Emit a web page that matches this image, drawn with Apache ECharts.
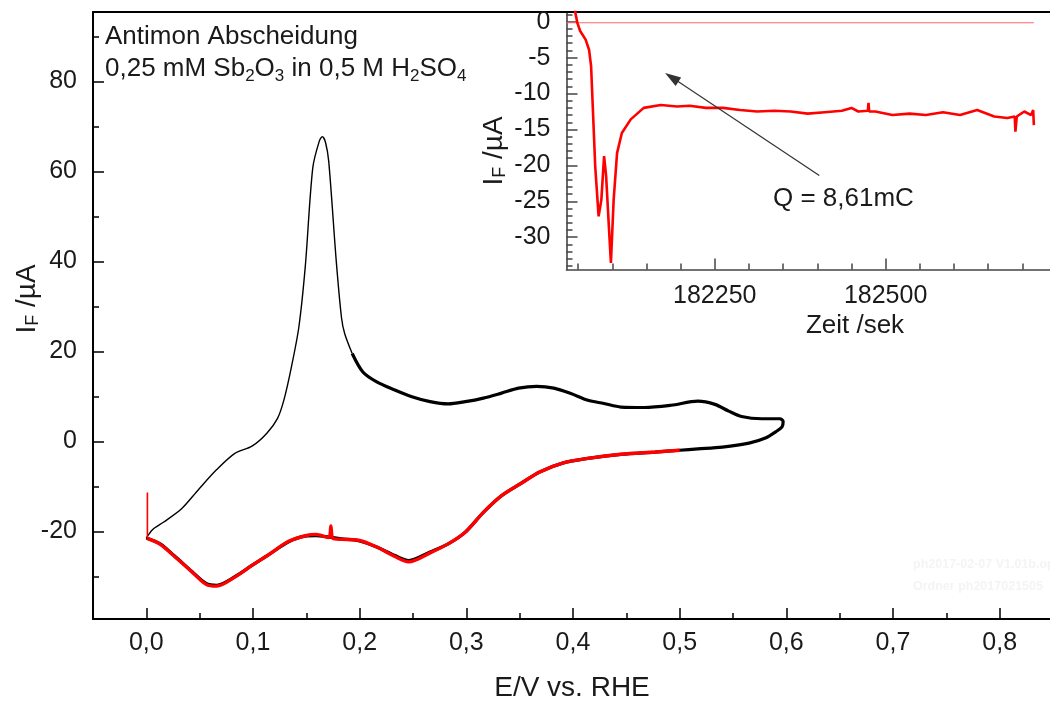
<!DOCTYPE html>
<html><head><meta charset="utf-8">
<script src="https://cdn.jsdelivr.net/npm/echarts@6/dist/echarts.min.js"></script>
<style>html,body{margin:0;padding:0;overflow:hidden;background:#fff}#c{width:1056px;height:704px}</style>
</head><body><div id="c"></div>
<script>
// ---------- data ----------
// Cyclic voltammogram: [E / V vs. RHE, I / µA]
const cvAnodicPeak = [[0.000,-21.5],[0.006,-19.6],[0.016,-18.0],[0.033,-15.0],[0.049,-10.7],[0.066,-6.3],[0.083,-2.7],[0.099,-1.1],[0.113,1.8],[0.123,5.1],[0.129,9.2],[0.136,16.5],[0.143,25.4],[0.149,38.8],[0.156,60.7],[0.162,66.6],[0.165,67.7],[0.168,66.4],[0.171,62.2],[0.178,40.2],[0.183,27.4],[0.186,23.9],[0.193,19.5]];
const cvLoop = [[0.193,19.5],[0.203,15.4],[0.216,13.2],[0.233,11.4],[0.249,9.9],[0.266,8.8],[0.283,8.3],[0.299,8.8],[0.316,9.6],[0.333,10.7],[0.349,11.8],[0.366,12.2],[0.382,11.8],[0.398,10.6],[0.414,9.1],[0.429,8.4],[0.445,7.6],[0.467,7.5],[0.492,8.0],[0.517,8.9],[0.533,8.2],[0.546,6.7],[0.558,5.5],[0.577,5.0],[0.594,5.0],[0.597,4.4],[0.596,3.2],[0.590,2.1],[0.581,0.8],[0.565,-0.4],[0.540,-1.3],[0.517,-1.7],[0.500,-2.0],[0.477,-2.4],[0.445,-2.9],[0.414,-3.8],[0.391,-4.8],[0.369,-6.8],[0.351,-9.4],[0.333,-12.1],[0.316,-15.8],[0.299,-20.2],[0.283,-22.8],[0.266,-24.6],[0.246,-26.5],[0.233,-25.4],[0.216,-23.5],[0.199,-22.1],[0.183,-21.7],[0.159,-21.0],[0.149,-21.1],[0.133,-22.4],[0.116,-25.0],[0.099,-27.6],[0.083,-30.1],[0.066,-32.0],[0.056,-31.6],[0.043,-29.0],[0.026,-25.4],[0.013,-22.8],[0.000,-21.5]];
const cvRedSweep = [[0.500,-2.0],[0.477,-2.4],[0.445,-2.9],[0.414,-3.8],[0.391,-4.8],[0.369,-6.8],[0.351,-9.4],[0.333,-12.1],[0.316,-15.8],[0.299,-20.2],[0.283,-22.8],[0.266,-24.8],[0.246,-26.8],[0.233,-25.6],[0.216,-23.5],[0.199,-22.0],[0.183,-21.8],[0.175,-21.6],[0.173,-18.8],[0.171,-21.4],[0.159,-20.7],[0.149,-21.0],[0.133,-22.3],[0.116,-25.0],[0.099,-27.6],[0.083,-30.2],[0.066,-32.2],[0.056,-31.8],[0.043,-29.1],[0.026,-25.5],[0.013,-22.9],[0.001,-21.6]];
const cvRedSpike = [[0.001,-21.6],[0.001,-11.4]];

// Inset: chronoamperometry [Zeit / sek, I / µA]
const insetTrace = [[182044,3.0],[182046,1.2],[182049,-0.2],[182053,-1.3],[182061,-2.5],[182066,-3.9],[182069,-6.2],[182071,-10.8],[182075,-20.1],[182080,-27.1],[182084,-24.8],[182088,-18.7],[182091,-21.5],[182095,-28.5],[182098,-33.6],[182102,-24.8],[182107,-18.3],[182114,-15.5],[182127,-13.6],[182146,-12.0],[182171,-11.6],[182195,-11.8],[182213,-11.7],[182237,-12.0],[182262,-12.0],[182287,-12.3],[182312,-12.5],[182337,-12.4],[182361,-12.5],[182386,-12.8],[182411,-12.6],[182436,-12.4],[182450,-12.0],[182460,-12.5],[182474,-12.4],[182475,-11.3],[182476,-12.5],[182485,-12.5],[182510,-13.0],[182535,-12.8],[182559,-13.0],[182584,-12.6],[182609,-13.0],[182634,-12.3],[182659,-13.2],[182678,-13.4],[182689,-13.2],[182690,-15.3],[182692,-13.2],[182703,-12.5],[182713,-13.0],[182716,-12.3],[182717,-14.4]];
const insetBaseline = [[182033,-0.15],[182717,-0.15]];
const arrowFrom = [182403,-21.4];
const arrowTo = [182187,-7.75];

// Ticks
const mainXTicks = [0,0.1,0.2,0.3,0.4,0.5,0.6,0.7,0.8];
const mainXMinorTicks = [0.05,0.15,0.25,0.35,0.45,0.55,0.65,0.75];
const mainYTicks = [-20,0,20,40,60,80];
const mainYMinorTicks = [-30,-10,10,30,50,70,90];
const insetXTicks = [182250,182500];
const insetXMinorTicks = [182050,182100,182150,182200,182300,182350,182400,182450,182550,182600,182650,182700];
const insetYTicks = [-30,-25,-20,-15,-10,-5,0];
const insetYMinorTicks = [-34,-33,-32,-31,-29,-28,-27,-26,-24,-23,-22,-21,-19,-18,-17,-16,-14,-13,-12,-11,-9,-8,-7,-6,-4,-3,-2,-1,1];

// ---------- chart ----------
const FONT = "'Liberation Sans', Arial, sans-serif";
const TXT = '#1a1a1a';
const chart = echarts.init(document.getElementById('c'), null, {renderer:'canvas'});

function axis(grid, min, max, opts) {
  return {
    type:'value', gridIndex:grid, min:min, max:max,
    position: opts.position,
    splitLine:{show:false},
    axisLine:{show: opts.line !== false, onZero:false, lineStyle:{color:opts.color||'#000', width:opts.lw||2}},
    axisTick:{show: !!opts.ticks, inside:true, length:opts.tickLen||11, customValues:opts.ticks||[], lineStyle:{color:opts.color||'#000', width:1.5}},
    axisLabel:{show: !!opts.labels, customValues:opts.labels||[], margin:opts.margin||12, fontSize:25, fontFamily:FONT, color:TXT, formatter:opts.fmt}
  };
}

const xFmt = v => v.toFixed(1).replace('.', ',');
const plainFmt = v => String(Math.round(v));
const sub = (fs, lh) => ({fontSize:fs, lineHeight:lh, fontFamily:FONT, verticalAlign:'bottom', fill:TXT});

chart.setOption({
  animation:false,
  backgroundColor:'#fff',
  grid:[
    {left:93, top:12, width:960, height:607},
    {left:566.5, top:12, width:486.5, height:257.5}
  ],
  xAxis:[
    axis(0,-0.05,0.85,{position:'bottom', ticks:mainXTicks, labels:mainXTicks, fmt:xFmt, margin:12}),
    axis(0,-0.05,0.85,{position:'bottom', line:false, ticks:mainXMinorTicks, tickLen:6}),
    axis(0,-0.05,0.85,{position:'top'}),
    axis(1,182033,182745,{position:'bottom', color:'#444', lw:1.6, ticks:insetXTicks, labels:insetXTicks, fmt:plainFmt, margin:14}),
    axis(1,182033,182745,{position:'bottom', line:false, color:'#444', ticks:insetXMinorTicks, tickLen:6})
  ],
  yAxis:[
    axis(0,-39.5,95.4,{position:'left', ticks:mainYTicks, labels:mainYTicks, fmt:plainFmt, margin:16}),
    axis(0,-39.5,95.4,{position:'left', line:false, ticks:mainYMinorTicks, tickLen:6}),
    axis(1,-34.5,1.35,{position:'left', color:'#444', lw:1.6, ticks:insetYTicks, labels:insetYTicks, fmt:plainFmt, margin:16}),
    axis(1,-34.5,1.35,{position:'left', line:false, color:'#444', ticks:insetYMinorTicks, tickLen:6})
  ],
  series:[
    {type:'line', xAxisIndex:0, yAxisIndex:0, data:cvAnodicPeak, symbol:'none', smooth:0.3, lineStyle:{color:'#000', width:1.4}, z:2},
    {type:'line', xAxisIndex:0, yAxisIndex:0, data:cvLoop, symbol:'none', smooth:0.3, lineStyle:{color:'#000', width:3.2}, z:2},
    {type:'line', xAxisIndex:0, yAxisIndex:0, data:cvRedSweep, symbol:'none', smooth:0.3, lineStyle:{color:'#ff0000', width:3.4}, z:3},
    {type:'line', xAxisIndex:0, yAxisIndex:0, data:cvRedSpike, symbol:'none', lineStyle:{color:'#ff0000', width:1.6}, z:3},
    {type:'line', xAxisIndex:3, yAxisIndex:2, data:insetBaseline, symbol:'none', lineStyle:{color:'#ff6a6a', width:1.2}, z:2},
    {type:'line', xAxisIndex:3, yAxisIndex:2, data:insetTrace, symbol:'none', lineStyle:{color:'#ff0000', width:2.6}, z:3,
      markLine:{silent:true, symbol:['none','triangle'], symbolSize:[10,16], animation:false,
        lineStyle:{color:'#333', width:1.2, type:'solid'}, label:{show:false},
        data:[[{coord:arrowFrom},{coord:arrowTo}]]}}
  ],
  graphic:[
    {type:'text', x:105, y:21, z:10, style:{text:'Antimon Abscheidung\n0,25 mM Sb{s|2}O{s|3} in 0,5 M H{s|2}SO{s|4}',
      fontSize:26, lineHeight:32, fontFamily:FONT, fill:TXT, align:'left', verticalAlign:'top', rich:{s:sub(17,15)}}},
    {type:'text', x:572, y:688, z:10, style:{text:'E/V vs. RHE', fontSize:28, fontFamily:FONT, fill:TXT, align:'center', verticalAlign:'middle'}},
    {type:'text', x:27, y:299, rotation:Math.PI/2, z:10, style:{text:'I{s|F} /µA', fontSize:28, lineHeight:30, fontFamily:FONT, fill:TXT, align:'center', verticalAlign:'middle', rich:{s:sub(18,12)}}},
    {type:'text', x:494, y:151, rotation:Math.PI/2, z:10, style:{text:'I{s|F} /µA', fontSize:28, lineHeight:30, fontFamily:FONT, fill:TXT, align:'center', verticalAlign:'middle', rich:{s:sub(18,12)}}},
    {type:'text', x:855, y:326, z:10, style:{text:'Zeit /sek', fontSize:26, fontFamily:FONT, fill:TXT, align:'center', verticalAlign:'middle'}},
    {type:'text', x:773, y:199, z:10, style:{text:'Q = 8,61mC', fontSize:26, fontFamily:FONT, fill:TXT, align:'left', verticalAlign:'middle'}},
    {type:'text', x:913, y:565, z:1, style:{text:'ph2017-02-07 V1.01b.opj', fontSize:12.5, fontWeight:'bold', fontFamily:FONT, fill:'#f4f4f4', align:'left', verticalAlign:'middle'}},
    {type:'text', x:913, y:587, z:1, style:{text:'Ordner ph2017021505', fontSize:12.5, fontWeight:'bold', fontFamily:FONT, fill:'#f4f4f4', align:'left', verticalAlign:'middle'}}
  ]
});
</script>
</body></html>
